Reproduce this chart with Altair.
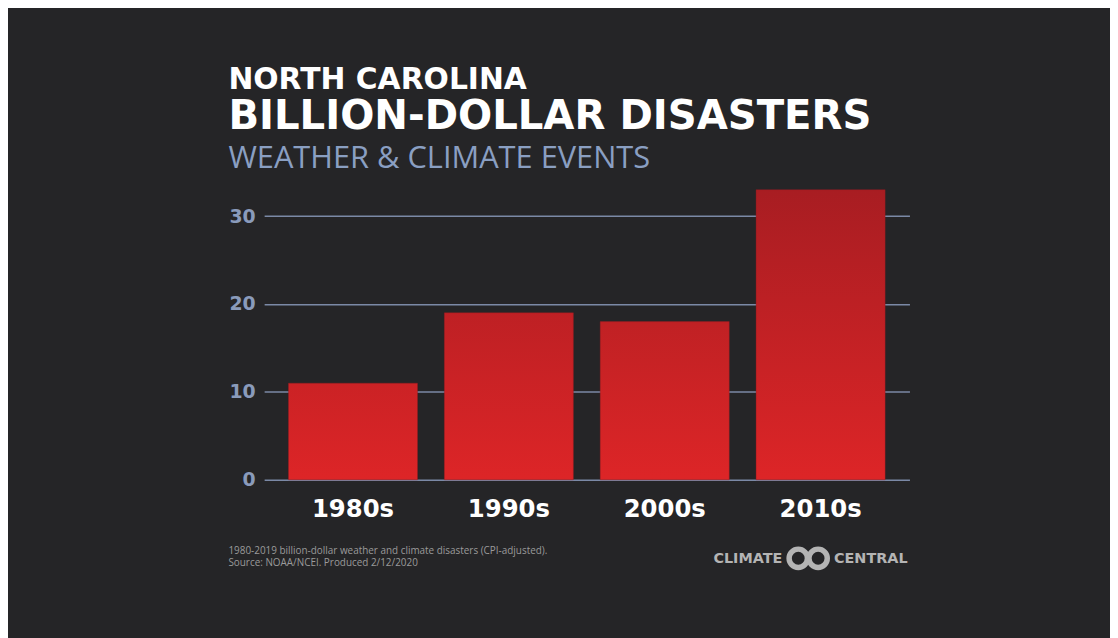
import altair as alt
import pandas as pd

decades = ["1980s", "1990s", "2000s", "2010s"]
counts = [11, 19, 18, 33]
y_ticks = [0, 10, 20, 30]

title_1 = "NORTH CAROLINA"
title_2 = "BILLION-DOLLAR DISASTERS"
title_3 = "WEATHER & CLIMATE EVENTS"
foot_1 = "1980-2019 billion-dollar weather and climate disasters (CPI-adjusted)."
foot_2 = "Source: NOAA/NCEI. Produced 2/12/2020"
logo_left = "CLIMATE"
logo_right = "CENTRAL"

df = pd.DataFrame({"decade": decades, "count": counts})

BG = "#252527"
GRID = "#7b89a6"
AXIS_LABEL = "#8a9bbb"
FONT = "Open Sans"
TFONT = "DejaVu Sans"

bottom_rgb = (221, 37, 39)
top_rgb_max = (168, 29, 34)
vmax = max(counts)


def hexcol(rgb):
    return "#%02x%02x%02x" % tuple(int(round(c)) for c in rgb)


def top_color(v):
    t = v / vmax
    return hexcol(tuple(b + (tp - b) * t for b, tp in zip(bottom_rgb, top_rgb_max)))


x_enc = alt.X(
    "decade:N",
    sort=decades,
    scale=alt.Scale(domain=decades, paddingInner=0.172, paddingOuter=0.156),
    axis=alt.Axis(
        title=None, domain=False, ticks=False, tickSize=0, labelAngle=0,
        labelFont=TFONT, labelFontSize=24.5, labelFontWeight="bold",
        labelColor="#ffffff", labelBaseline="alphabetic", labelPadding=37,
    ),
)
y_enc = alt.Y(
    "count:Q",
    scale=alt.Scale(domain=[0, 35], nice=False),
    axis=alt.Axis(
        title=None, values=y_ticks, domain=False, ticks=False, tickSize=0,
        grid=True, gridColor=GRID, gridWidth=1.5, gridOpacity=1,
        labelFont=TFONT, labelFontSize=19, labelFontWeight="bold",
        labelColor=AXIS_LABEL, labelPadding=9,
    ),
)

base = alt.Chart(df)
bar_layers = []
for d, v in zip(decades, counts):
    grad = alt.Gradient(
        gradient="linear",
        stops=[
            alt.GradientStop(color=top_color(v), offset=0),
            alt.GradientStop(color=hexcol(bottom_rgb), offset=1),
        ],
        x1=0, x2=0, y1=0, y2=1,
    )
    bar_layers.append(
        base.transform_filter(alt.datum.decade == d)
        .mark_bar(fill=grad, stroke="#9a1a1e", strokeWidth=0.6, strokeOpacity=0.6)
        .encode(x=x_enc, y=y_enc)
    )


def label(text, x, y, size, color, weight="normal", align="left", font=FONT):
    kw = dict(align=align, baseline="alphabetic", font=font, fontSize=size,
              fontWeight=weight, color=color)
    return alt.Chart(pd.DataFrame({"t": [text]})).mark_text(**kw).encode(
        text="t:N", x=alt.value(x), y=alt.value(y)
    )


def ring(x, y):
    return alt.Chart(pd.DataFrame({"k": [0]})).mark_point(
        shape="circle", filled=False, strokeWidth=5.5, color="#b4b4b4", opacity=1, size=340
    ).encode(x=alt.value(x), y=alt.value(y))


texts = [
    label(title_1, -36, -84, 30, "#ffffff", "bold", font=TFONT),
    label(title_2, -36, -43, 40.5, "#ffffff", "bold", font=TFONT),
    label(title_3, -36, -4, 31, "#8a9fc2", "normal", font=FONT),
    label(foot_1, -36, 385, 10, "#9a9a9a"),
    label(foot_2, -36, 397, 10, "#9a9a9a"),
    label(logo_left, 522, 394, 14.5, "#b4b4b4", "bold", align="right", font=TFONT),
    label(logo_right, 574, 394, 14.5, "#b4b4b4", "bold", font=TFONT),
]

chart = alt.layer(*bar_layers, *texts, ring(538, 389), ring(558, 389)).properties(
    width=650,
    height=310,
    padding={"left": 258, "top": 163, "right": 202, "bottom": 157},
    autosize=alt.AutoSizeParams(type="none"),
    background=BG,
).configure_view(stroke=None)

chart.save("out.html", embed_options={"renderer": "svg", "actions": False})
